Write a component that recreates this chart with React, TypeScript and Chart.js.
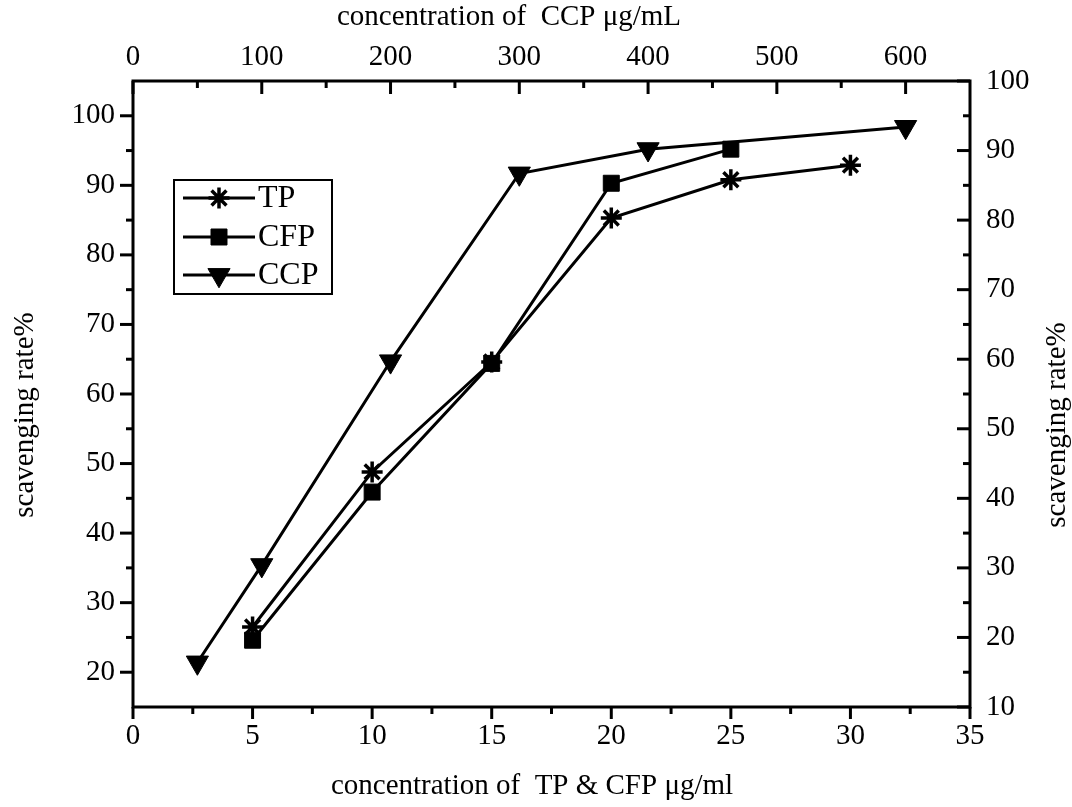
import React, { useEffect, useRef } from 'react';
import { Chart, registerables } from 'chart.js';
import { drawPoint } from 'chart.js/helpers';

Chart.register(...registerables);

// ---- data ----
const tpConc = [5, 10, 15, 20, 25, 30];
const tpRate = [26.5, 48.8, 64.6, 85.3, 90.8, 92.9];
const cfpConc = [5, 10, 15, 20, 25];
const cfpRate = [24.6, 45.9, 64.4, 90.3, 95.2];
const ccpConc = [50, 100, 200, 300, 400, 600];
const ccpRate = [16.4, 30.4, 59.7, 86.7, 90.2, 93.4];

const bottomTicks = [0, 5, 10, 15, 20, 25, 30, 35];
const topTicks = [0, 100, 200, 300, 400, 500, 600];
const leftTicks = [20, 30, 40, 50, 60, 70, 80, 90, 100];
const rightTicks = [10, 20, 30, 40, 50, 60, 70, 80, 90, 100];

const bottomTitle = 'concentration of  TP & CFP \u03bcg/ml';
const topTitle = 'concentration of  CCP \u03bcg/mL';
const leftTitle = 'scavenging rate%';
const rightTitle = 'scavenging rate%';

const FAMILY = '"Liberation Serif", "Times New Roman", serif';
const tickFont = { family: FAMILY, size: 29 };

const mids = (arr: number[]) => arr.slice(0, -1).map((v, i) => (v + arr[i + 1]) / 2);

const framePlugin = {
  id: 'frame',
  afterDatasetsDraw(chart: any) {
    const { ctx, chartArea: a, scales } = chart;
    ctx.save();
    ctx.strokeStyle = '#000';
    ctx.lineWidth = 3;
    ctx.lineCap = 'butt';
    const seg = (x1: number, y1: number, x2: number, y2: number) => {
      ctx.beginPath();
      ctx.moveTo(x1, y1);
      ctx.lineTo(x2, y2);
      ctx.stroke();
    };
    const sx = scales.x, sx2 = scales.x2, sy = scales.y, sy2 = scales.y2;
    // bottom: outward
    bottomTicks.forEach((v) => { const p = sx.getPixelForValue(v); seg(p, a.bottom, p, a.bottom + 12); });
    mids(bottomTicks).forEach((v) => { const p = sx.getPixelForValue(v); seg(p, a.bottom, p, a.bottom + 7); });
    // top: inward
    topTicks.forEach((v) => { const p = sx2.getPixelForValue(v); seg(p, a.top, p, a.top + 13); });
    mids([...topTicks, 700]).forEach((v) => { const p = sx2.getPixelForValue(v); if (p < a.right - 2) seg(p, a.top, p, a.top + 7); });
    // left: outward
    leftTicks.forEach((v) => { const p = sy.getPixelForValue(v); seg(a.left - 13, p, a.left, p); });
    mids([10, ...leftTicks, 110]).forEach((v) => { const p = sy.getPixelForValue(v); if (p > a.top + 2 && p < a.bottom - 2) seg(a.left - 7, p, a.left, p); });
    // right: inward
    rightTicks.forEach((v) => { const p = sy2.getPixelForValue(v); seg(a.right - 13, p, a.right, p); });
    mids(rightTicks).forEach((v) => { const p = sy2.getPixelForValue(v); seg(a.right - 7, p, a.right, p); });
    // frame
    ctx.strokeRect(a.left, a.top, a.right - a.left, a.bottom - a.top);

    // axis titles
    ctx.fillStyle = '#000';
    ctx.font = `29px ${FAMILY}`;
    ctx.textAlign = 'center';
    ctx.textBaseline = 'alphabetic';
    ctx.fillText(bottomTitle, 532, 794);
    ctx.fillText(topTitle, 509, 25);
    ctx.save();
    ctx.translate(33, 415);
    ctx.rotate(-Math.PI / 2);
    ctx.fillText(leftTitle, 0, 0);
    ctx.restore();
    ctx.save();
    ctx.translate(1065, 425);
    ctx.rotate(-Math.PI / 2);
    ctx.fillText(rightTitle, 0, 0);
    ctx.restore();
    ctx.restore();
  },
  afterDraw(chart: any) {
    const { ctx } = chart;
    ctx.save();
    const box = { l: 174, t: 180, r: 332, b: 294 };
    ctx.strokeStyle = '#000';
    ctx.lineWidth = 2;
    ctx.strokeRect(box.l, box.t, box.r - box.l, box.b - box.t);
    const rows = [198, 237, 275];
    chart.data.datasets.forEach((ds: any, i: number) => {
      const y = rows[i];
      ctx.lineWidth = 3;
      ctx.strokeStyle = '#000';
      ctx.beginPath();
      ctx.moveTo(183, y);
      ctx.lineTo(255, y);
      ctx.stroke();
      ctx.fillStyle = '#000';
      ctx.lineWidth = ds.pointBorderWidth;
      drawPoint(ctx, {
        pointStyle: ds.pointStyle,
        radius: ds.pointRadius,
        rotation: ds.pointRotation || 0,
        borderWidth: ds.pointBorderWidth,
      } as any, 219, y);
      ctx.font = `32px ${FAMILY}`;
      ctx.textAlign = 'left';
      ctx.textBaseline = 'middle';
      ctx.fillText(ds.label, 258, y + 1);
    });
    ctx.restore();
  },
};

const pts = (xs: number[], ys: number[]) => xs.map((x, i) => ({ x, y: ys[i] }));

export default function App() {
  const ref = useRef<HTMLCanvasElement | null>(null);
  useEffect(() => {
    document.body.style.margin = '0';
    const canvas = ref.current!;
    const common = {
      borderColor: '#000',
      backgroundColor: '#000',
      borderWidth: 3,
      showLine: true,
      tension: 0,
      pointBorderColor: '#000',
      pointBackgroundColor: '#000',
    };
    const chart = new Chart(canvas, {
      type: 'scatter',
      data: {
        datasets: [
          { ...common, label: 'TP', data: pts(tpConc, tpRate), xAxisID: 'x', yAxisID: 'y', pointStyle: 'star', pointRadius: 10.5, pointBorderWidth: 3.5 },
          { ...common, label: 'CFP', data: pts(cfpConc, cfpRate), xAxisID: 'x', yAxisID: 'y', pointStyle: 'rect', pointRadius: 11.3, pointBorderWidth: 1 },
          { ...common, label: 'CCP', data: pts(ccpConc, ccpRate), xAxisID: 'x2', yAxisID: 'y2', pointStyle: 'triangle', pointRotation: 180, pointRadius: 12.8, pointBorderWidth: 1 },
        ] as any,
      },
      options: {
        animation: false,
        responsive: false,
        devicePixelRatio: 1,
        layout: { padding: 0 },
        plugins: { legend: { display: false }, tooltip: { enabled: false } },
        scales: {
          x: {
            type: 'linear', position: 'bottom', min: 0, max: 35,
            afterBuildTicks: (s: any) => { s.ticks = bottomTicks.map((v) => ({ value: v })); },
            afterFit: (s: any) => { s.height = 100; },
            grid: { display: false, drawTicks: false }, border: { display: false },
            ticks: { color: '#000', font: tickFont, padding: 12, maxRotation: 0, autoSkip: false, callback: (v: any) => String(v) },
          },
          x2: {
            type: 'linear', position: 'top', min: 0, max: 650,
            afterBuildTicks: (s: any) => { s.ticks = topTicks.map((v) => ({ value: v })); },
            afterFit: (s: any) => { s.height = 81; },
            grid: { display: false, drawTicks: false }, border: { display: false },
            ticks: { color: '#000', font: tickFont, padding: 6, maxRotation: 0, autoSkip: false, callback: (v: any) => String(v) },
          },
          y: {
            type: 'linear', position: 'left', min: 15, max: 105,
            afterBuildTicks: (s: any) => { s.ticks = leftTicks.map((v) => ({ value: v })); },
            afterFit: (s: any) => { s.width = 133; },
            grid: { display: false, drawTicks: false }, border: { display: false },
            ticks: { color: '#000', font: tickFont, padding: 18, autoSkip: false, callback: (v: any) => String(v) },
          },
          y2: {
            type: 'linear', position: 'right', min: 10, max: 100,
            afterBuildTicks: (s: any) => { s.ticks = rightTicks.map((v) => ({ value: v })); },
            afterFit: (s: any) => { s.width = 102; },
            grid: { display: false, drawTicks: false }, border: { display: false },
            ticks: { color: '#000', font: tickFont, padding: 16, autoSkip: false, callback: (v: any) => String(v) },
          },
        },
      } as any,
      plugins: [framePlugin],
    });
    return () => chart.destroy();
  }, []);
  return <canvas ref={ref} width={1072} height={807} style={{ display: 'block', width: 1072, height: 807 }} />;
}
